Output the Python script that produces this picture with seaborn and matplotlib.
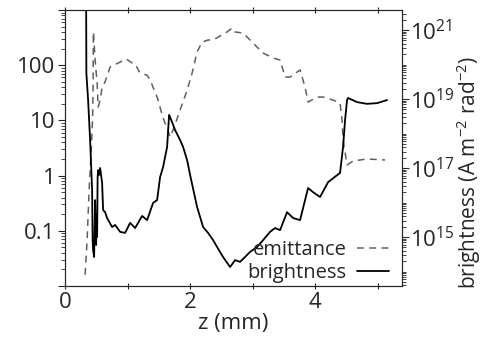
import numpy as np
import pandas as pd
import matplotlib
matplotlib.use("Agg")
import matplotlib.pyplot as plt
import matplotlib.ticker as mticker
import seaborn as sns

# emittance (left axis), z in mm
emit_z = [0.32, 0.352, 0.384, 0.42, 0.44, 0.448, 0.452, 0.48, 0.512, 0.528, 0.56, 0.592,
          0.64, 0.72, 0.88, 0.976, 1.072, 1.12, 1.2, 1.312, 1.36, 1.472, 1.568, 1.632,
          1.68, 1.728, 1.84, 1.952, 2.032, 2.112, 2.192, 2.288, 2.368, 2.48, 2.592,
          2.672, 2.72, 2.848, 3.008, 3.168, 3.328, 3.44, 3.52, 3.6, 3.76, 3.84, 3.888,
          4.032, 4.128, 4.288, 4.4, 4.432, 4.448, 4.512, 4.608, 4.832, 5.12]
emit_val = [0.016, 0.068, 0.55, 3.3, 11.5, 48, 400, 124, 48, 17.5, 23, 40,
            50, 93, 114, 130, 110, 105, 72, 66, 54, 26.5, 11, 7.3,
            5.0, 6.7, 15.4, 35, 72, 174, 263, 286, 286, 338, 400,
            472, 400, 383, 252, 166, 135, 124, 61, 61, 82, 40, 21.5,
            26.5, 26.5, 23.4, 20.7, 10, 4.4, 1.56, 1.84, 2.0, 1.92]

# brightness (right axis), log10 values
bright_z = [0.336, 0.34, 0.368, 0.40, 0.432, 0.44, 0.448, 0.464, 0.48, 0.496, 0.504,
            0.512, 0.52, 0.528, 0.544, 0.56, 0.592, 0.608, 0.64, 0.672, 0.752, 0.80,
            0.88, 0.96, 1.04, 1.12, 1.232, 1.312, 1.408, 1.472, 1.52, 1.568, 1.632,
            1.664, 1.712, 1.76, 1.84, 1.888, 1.952, 2.0, 2.112, 2.208, 2.288, 2.368,
            2.432, 2.528, 2.64, 2.72, 2.80, 2.912, 2.96, 3.072, 3.168, 3.28, 3.36,
            3.44, 3.552, 3.648, 3.76, 3.888, 3.968, 4.08, 4.208, 4.40, 4.448, 4.48,
            4.512, 4.528, 4.672, 4.832, 4.992, 5.152]
bright_log = [22.0, 19.75, 18.97, 17.81, 16.36, 14.91, 14.62, 14.42, 16.07, 14.77, 15.64,
              15.0, 16.74, 16.94, 16.80, 17.0, 16.57, 15.78, 15.72, 15.55, 15.29, 15.35,
              15.15, 15.12, 15.41, 15.26, 15.61, 15.49, 15.99, 16.07, 16.74, 17.03, 17.61,
              18.54, 18.33, 18.10, 17.81, 17.61, 17.23, 16.80, 15.87, 15.29, 15.12, 14.91,
              14.71, 14.42, 14.13, 14.33, 14.28, 14.48, 14.57, 14.71, 14.91, 15.15, 15.26,
              15.20, 15.72, 15.55, 15.49, 16.42, 16.30, 16.16, 16.59, 16.86, 17.61, 18.39,
              18.97, 19.03, 18.91, 18.86, 18.88, 18.97]

sns.set_style("ticks")
plt.rcParams['font.family'] = ['Open Sans', 'DejaVu Sans']
plt.rcParams['mathtext.fontset'] = 'custom'
plt.rcParams['mathtext.rm'] = 'Open Sans'
plt.rcParams['mathtext.it'] = 'Open Sans'

fig = plt.figure(figsize=(4.86, 3.45), dpi=100)
ax = fig.add_axes([0.134, 0.171, 0.693, 0.8])
ax2 = ax.twinx()

df_e = pd.DataFrame({"z": emit_z, "emittance": emit_val})
df_b = pd.DataFrame({"z": bright_z, "brightness": 10.0 ** np.array(bright_log)})

sns.lineplot(data=df_e, x="z", y="emittance", ax=ax, color="#606060", lw=1.1,
             linestyle=(0, (4.5, 3.5)), estimator=None, sort=False, label="emittance",
             legend=False)
sns.lineplot(data=df_b, x="z", y="brightness", ax=ax2, color="black", lw=1.3,
             estimator=None, sort=False, label="brightness", legend=False)

ax.set_xlim(0, 5.39)
ax.set_yscale("log")
ax.set_ylim(0.01, 1000)
ax2.set_yscale("log")
ax2.set_ylim(10 ** 13.58, 10 ** 21.58)

ax.set_xticks([0, 2, 4])
ax.set_xticks([1, 3, 5], minor=True)
ax.yaxis.set_major_locator(mticker.FixedLocator([0.01, 0.1, 1, 10, 100, 1000]))
ax.yaxis.set_major_formatter(mticker.FixedFormatter(["", "0.1", "1", "10", "100", ""]))
ax.yaxis.set_minor_locator(mticker.LogLocator(base=10, subs=np.arange(2, 10), numticks=20))
ax.yaxis.set_minor_formatter(mticker.NullFormatter())

ax2.yaxis.set_major_locator(mticker.FixedLocator([1e15, 1e17, 1e19, 1e21]))
ax2.yaxis.set_major_formatter(mticker.FixedFormatter(
    ["$10^{15}$", "$10^{17}$", "$10^{19}$", "$10^{21}$"]))
ax2.yaxis.set_minor_locator(mticker.LogLocator(base=10, subs=np.arange(1, 10), numticks=30))
ax2.yaxis.set_minor_formatter(mticker.NullFormatter())

for a in (ax, ax2):
    for s in a.spines.values():
        s.set_visible(True)
        s.set_linewidth(0.8)
ax.tick_params(axis="x", which="both", direction="inout", top=True, labelsize=16,
               length=5, width=0.8, pad=2)
ax.tick_params(axis="y", which="major", direction="out", labelsize=16, length=5,
               width=0.8, pad=2)
ax.tick_params(axis="y", which="minor", direction="out", length=3, width=0.6)
ax2.tick_params(axis="y", which="major", direction="out", labelsize=16, length=5,
                width=0.8, pad=1)
ax2.tick_params(axis="y", which="minor", direction="out", length=3, width=0.6)

ax.set_xlabel("z (mm)", fontsize=16, labelpad=0)
ax.set_ylabel("")
ax2.set_ylabel("brightness (A m$^{-2}$ rad$^{-2}$)", fontsize=15)
ax2.yaxis.set_label_coords(1.155, 0.41)

h1, l1 = ax.get_legend_handles_labels()
h2, l2 = ax2.get_legend_handles_labels()
ax2.legend(h1 + h2, l1 + l2, loc="lower right", frameon=False, markerfirst=False,
           fontsize=14.5, handlelength=1.6, handletextpad=0.5, labelspacing=0.15,
           borderaxespad=0.0, bbox_to_anchor=(0.985, -0.02))

fig.savefig("out.png", dpi=100)
